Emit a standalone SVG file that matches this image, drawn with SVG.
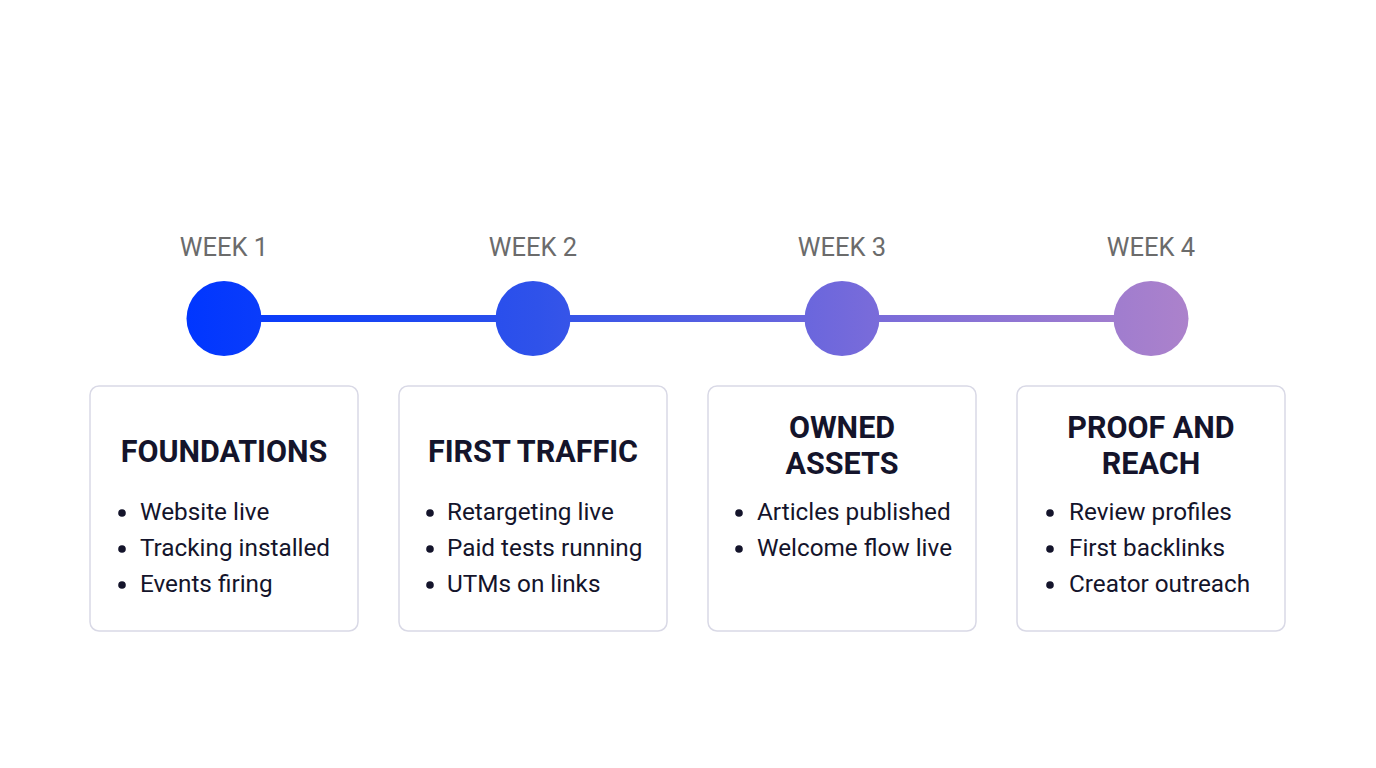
<svg xmlns="http://www.w3.org/2000/svg" width="1376" height="768" viewBox="0 0 1376 768">
<defs>
<linearGradient id="tl" gradientUnits="userSpaceOnUse" x1="186" y1="0" x2="1190" y2="0">
<stop offset="0" stop-color="#0036FF"/>
<stop offset="0.35" stop-color="#2F52EA"/>
<stop offset="0.68" stop-color="#786BDA"/>
<stop offset="1" stop-color="#AC82CB"/>
</linearGradient>
<style>
.wk{font-family:Roboto,"Liberation Sans",sans-serif;font-size:25.5px;fill:#6B6B6B;text-anchor:middle}
.card{fill:#FFFFFF;stroke:#D9D9E6;stroke-width:1.5}
.ttl{font-family:Roboto,"Liberation Sans",sans-serif;font-size:30.5px;font-weight:700;fill:#14142B;text-anchor:middle}
.bl{font-family:Roboto,"Liberation Sans",sans-serif;font-size:24.3px;fill:#14142B}
.dot{fill:#14142B}
.node{fill:url(#tl)}
</style>
</defs>
<rect width="1376" height="768" fill="#FFFFFF"/>
<g id="connectors">
<line x1="224" y1="318.5" x2="1151" y2="318.5" stroke="url(#tl)" stroke-width="7"/>
</g>
<g id="week1">
<text class="wk" x="224" y="256">WEEK 1</text>
<circle class="node" cx="224" cy="318.5" r="37.5"/>
<rect class="card" x="90" y="386" width="268" height="245" rx="9"/>
<text class="ttl" x="224" y="462">FOUNDATIONS</text>
<circle class="dot" cx="122" cy="513" r="3.8"/><text class="bl" x="140" y="520">Website live</text>
<circle class="dot" cx="122" cy="549" r="3.8"/><text class="bl" x="140" y="556">Tracking installed</text>
<circle class="dot" cx="122" cy="585" r="3.8"/><text class="bl" x="140" y="592">Events firing</text>
</g>
<g id="week2">
<text class="wk" x="533" y="256">WEEK 2</text>
<circle class="node" cx="533" cy="318.5" r="37.5"/>
<rect class="card" x="399" y="386" width="268" height="245" rx="9"/>
<text class="ttl" x="533" y="462">FIRST TRAFFIC</text>
<circle class="dot" cx="430" cy="513" r="3.8"/><text class="bl" x="447" y="520">Retargeting live</text>
<circle class="dot" cx="430" cy="549" r="3.8"/><text class="bl" x="447" y="556">Paid tests running</text>
<circle class="dot" cx="430" cy="585" r="3.8"/><text class="bl" x="447" y="592">UTMs on links</text>
</g>
<g id="week3">
<text class="wk" x="842" y="256">WEEK 3</text>
<circle class="node" cx="842" cy="318.5" r="37.5"/>
<rect class="card" x="708" y="386" width="268" height="245" rx="9"/>
<text class="ttl" x="842" y="438">OWNED</text>
<text class="ttl" x="842" y="474">ASSETS</text>
<circle class="dot" cx="739" cy="513" r="3.8"/><text class="bl" x="757" y="520">Articles published</text>
<circle class="dot" cx="739" cy="549" r="3.8"/><text class="bl" x="757" y="556">Welcome flow live</text>
</g>
<g id="week4">
<text class="wk" x="1151" y="256">WEEK 4</text>
<circle class="node" cx="1151" cy="318.5" r="37.5"/>
<rect class="card" x="1017" y="386" width="268" height="245" rx="9"/>
<text class="ttl" x="1151" y="438">PROOF AND</text>
<text class="ttl" x="1151" y="474">REACH</text>
<circle class="dot" cx="1050" cy="513" r="3.8"/><text class="bl" x="1069" y="520">Review profiles</text>
<circle class="dot" cx="1050" cy="549" r="3.8"/><text class="bl" x="1069" y="556">First backlinks</text>
<circle class="dot" cx="1050" cy="585" r="3.8"/><text class="bl" x="1069" y="592">Creator outreach</text>
</g>
</svg>
